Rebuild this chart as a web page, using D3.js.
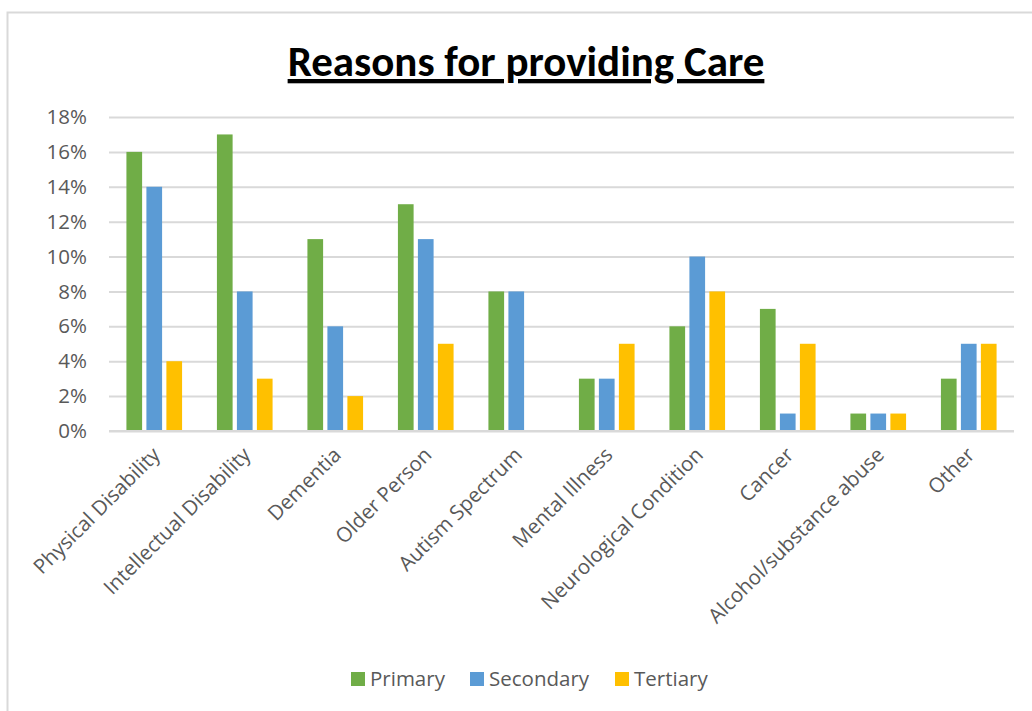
<!DOCTYPE html>
<html>
<head>
<meta charset="utf-8">
<script src="https://cdn.jsdelivr.net/npm/d3@7"></script>
<style>
  body { margin: 0; background: #fff; }
  text { font-family: "Open Sans", sans-serif; }
</style>
</head>
<body>
<svg id="chart"></svg>
<script>
const width = 1032;
const height = 711;
const margin = { top: 117, right: 18, bottom: 280, left: 109 };

// Dữ liệu
const categories = ["Physical Disability", "Intellectual Disability", "Dementia", "Older Person",
  "Autism Spectrum", "Mental Illness", "Neurological Condition", "Cancer",
  "Alcohol/substance abuse", "Other"];
const series = ["Primary", "Secondary", "Tertiary"];
const primary = [16, 17, 11, 13, 8, 3, 6, 7, 1, 3];
const secondary = [14, 8, 6, 11, 8, 3, 10, 1, 1, 5];
const tertiary = [4, 3, 2, 5, 0, 5, 8, 5, 1, 5];
const yTicks = [0, 2, 4, 6, 8, 10, 12, 14, 16, 18];

const values = { Primary: primary, Secondary: secondary, Tertiary: tertiary };

const svg = d3.select("#chart")
  .attr("width", width)
  .attr("height", height);

// Khung ngoài
svg.append("rect")
  .attr("x", 7.5).attr("y", 12.5)
  .attr("width", 1100).attr("height", 800)
  .attr("fill", "none")
  .attr("stroke", "#d9d9d9")
  .attr("stroke-width", 2);

// Tiêu đề
svg.append("text")
  .attr("x", 526)
  .attr("y", 76)
  .attr("text-anchor", "middle")
  .style("font-family", "Carlito, 'Open Sans', sans-serif")
  .style("font-size", "43px")
  .style("font-weight", "bold")
  .style("text-decoration", "underline")
  .attr("fill", "#000")
  .text("Reasons for providing Care");

const x = d3.scaleBand()
  .domain(categories)
  .range([margin.left, width - margin.right])
  .paddingInner(0.385)
  .paddingOuter(0.1925);

const xSub = d3.scaleBand()
  .domain(series)
  .range([0, x.bandwidth()])
  .paddingInner(0.215);

const y = d3.scaleLinear()
  .domain([0, 18])
  .range([height - margin.bottom, margin.top]);

const color = d3.scaleOrdinal()
  .domain(series)
  .range(["#70ad47", "#5b9bd5", "#ffc000"]);

// Lưới ngang
const yAxis = svg.append("g")
  .attr("transform", `translate(${margin.left},0)`)
  .call(d3.axisLeft(y).tickValues(yTicks)
    .tickSize(-(width - margin.left - margin.right))
    .tickPadding(22)
    .tickFormat(d => d + "%"));
yAxis.select(".domain").remove();
yAxis.selectAll(".tick line")
  .attr("stroke", "#d9d9d9")
  .attr("stroke-width", 2);
yAxis.selectAll(".tick text")
  .attr("fill", "#595959")
  .style("font-size", "20.5px");

// Cột
const groups = svg.selectAll("g.group")
  .data(categories)
  .enter().append("g")
  .attr("class", "group")
  .attr("transform", d => `translate(${x(d)},0)`);

groups.selectAll("rect")
  .data((d, i) => series.map(s => ({ key: s, value: values[s][i] })))
  .enter().append("rect")
  .attr("x", d => xSub(d.key))
  .attr("y", d => y(d.value))
  .attr("width", xSub.bandwidth())
  .attr("height", d => y(0) - y(d.value))
  .attr("fill", d => color(d.key));

// Trục X
svg.append("line")
  .attr("x1", margin.left).attr("x2", width - margin.right)
  .attr("y1", y(0)).attr("y2", y(0))
  .attr("stroke", "#d9d9d9")
  .attr("stroke-width", 2);

svg.append("g")
  .selectAll("text")
  .data(categories)
  .enter().append("text")
  .attr("transform", d => `translate(${x(d) + x.bandwidth() / 2 + 2},${y(0) + 20}) rotate(-45)`)
  .attr("text-anchor", "end")
  .attr("dy", "0.35em")
  .attr("fill", "#595959")
  .style("font-size", "20.5px")
  .text(d => d);

// Chú thích
const legend = svg.append("g")
  .attr("transform", "translate(351,679)");
const legendX = [0, 119, 264];
series.forEach((s, i) => {
  legend.append("rect")
    .attr("x", legendX[i])
    .attr("y", -7)
    .attr("width", 14)
    .attr("height", 14)
    .attr("fill", color(s));
  legend.append("text")
    .attr("x", legendX[i] + 19)
    .attr("y", 0)
    .attr("dy", "0.35em")
    .attr("fill", "#595959")
    .style("font-size", "20.5px")
    .text(s);
});
</script>
</body>
</html>
